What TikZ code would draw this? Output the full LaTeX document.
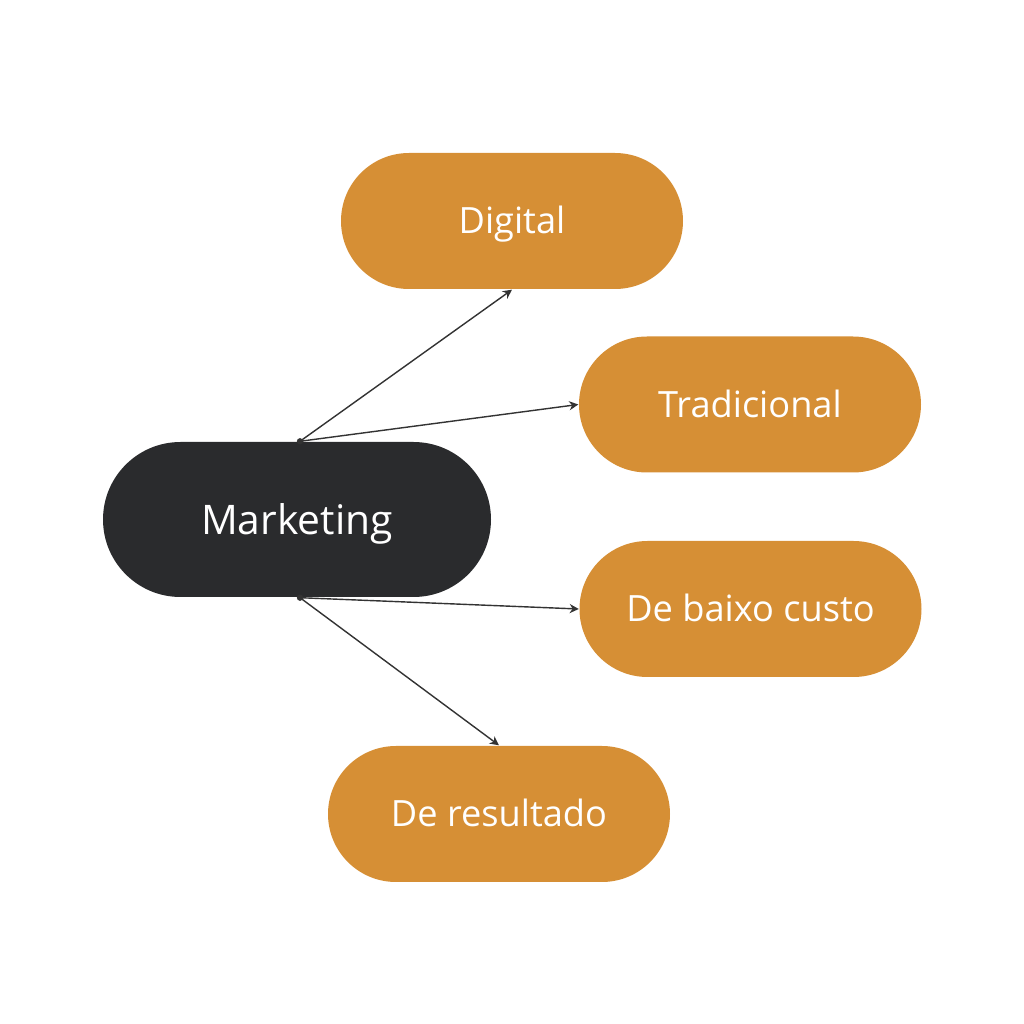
\documentclass[tikz,border=0pt]{standalone}
\usepackage{fontspec}
\setmainfont{Open Sans}
\usepackage{tikz}
\usepackage{xcolor}
\usetikzlibrary{positioning, arrows.meta, calc}
\definecolor{cMain}  {HTML}{2A2B2D}
\definecolor{cBranch}{HTML}{D68F35}
\definecolor{cLink}  {HTML}{333333}
\tikzset{
  mainpill/.style={fill=cMain, rounded corners=0.775cm, minimum width=3.88cm,
    minimum height=1.55cm, text=white, text height=8.3pt, text depth=0pt,
    font=\fontsize{11.6}{14}\selectfont},
  branchpill/.style={fill=cBranch, rounded corners=0.68cm, minimum width=3.42cm,
    minimum height=1.36cm, text=white, text height=7.35pt, text depth=0pt,
    font=\fontsize{10.3}{12}\selectfont},
  link/.style={-{Stealth[length=2.6pt, width=2.6pt]}, line width=0.4pt, draw=cLink},
  linkdot/.style={circle, fill=cLink, inner sep=0pt, minimum size=1.8pt},
}

\begin{document}
\begin{tikzpicture}
        \useasboundingbox (0,0) rectangle (10.24,10.24);
        \node[mainpill] (mk) at (2.97, 5.045) {Marketing};
        \node[branchpill] (dig) at (5.12, 8.03) {Digital};
        \node[branchpill] (trad) at (7.50, 6.195) {Tradicional};
        \node[branchpill] (baixo) at (7.505, 4.15) {De baixo custo};
        \node[branchpill] (res) at (4.99, 2.10) {De resultado};
        \node[linkdot] (top) at ([xshift=0.03cm]mk.north) {};
        \node[linkdot] (bot) at ([xshift=0.03cm]mk.south) {};
        \draw[link] (top.center) -- (dig.south);
        \draw[link] (top.center) -- (trad.west);
        \draw[link] (bot.center) -- (baixo.west);
        \draw[link] (bot.center) -- (res.north);
\end{tikzpicture}
\end{document}
